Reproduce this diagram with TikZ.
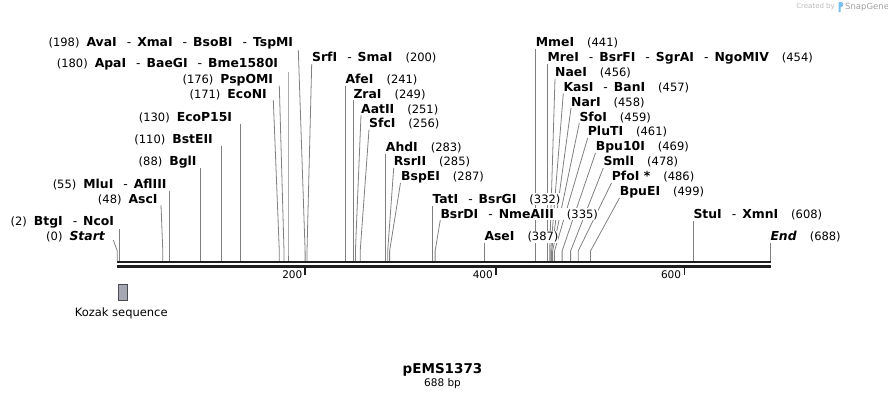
\documentclass[tikz,border=0pt]{standalone}
\usepackage{fontspec}
\setmainfont{DejaVu Sans}
\usetikzlibrary{backgrounds}
\newcommand{\enz}[1]{{\fontsize{12.4}{13}\selectfont\bfseries #1}}
\newcommand{\dsep}{\hspace{10pt}\textmd{-}\hspace{6pt}}
\newcommand{\rpos}[1]{\hspace{13pt}\textmd{(#1)}}
\newcommand{\lpos}[1]{(#1)\hspace{7pt}}

\begin{document}
\begin{tikzpicture}[x=1pt,y=-1pt,
  font=\fontsize{11.5}{13}\selectfont,
  leftlbl/.style={anchor=east,inner sep=0pt,fill=white,text height=10pt,text depth=1.6pt},
  rightlbl/.style={leftlbl,anchor=west},
  cut/.style={draw={rgb, 255:red, 128; green, 128; blue, 128},line width=0.8pt},
  seqbar/.style={draw={rgb, 255:red, 30; green, 30; blue, 30},line width=2.6pt},
  ruler/.style={draw={rgb, 255:red, 30; green, 30; blue, 30},line width=1.6pt},
  rulerlbl/.style={anchor=east,inner sep=0pt,font=\fontsize{10.5}{12}\selectfont}]
\useasboundingbox (0,0) rectangle (888,400);

%Watermark
\node[anchor=east,inner sep=0pt,text={rgb, 255:red, 185; green, 185; blue, 185},font=\fontsize{7}{8}\selectfont] (made) at (835,7) {Created by};
\fill[fill={rgb, 255:red, 120; green, 190; blue, 240}] (838.5,12) -- (838.5,2) -- (841,2) .. controls (844,2) and (844,7) .. (841,7) -- (840.5,7) -- (840.5,12) -- cycle ;
\node[anchor=west,inner sep=0pt,text={rgb, 255:red, 160; green, 160; blue, 160},font=\fontsize{8.5}{9}\selectfont] (snap) at (845,7) {SnapGene};

%Labels: left of their sites
\node[leftlbl] (AvaI) at (293.3,42.3) {\lpos{198}\enz{AvaI\dsep XmaI\dsep BsoBI\dsep TspMI}};
\node[leftlbl] (ApaI) at (278.3,63.3) {\lpos{180}\enz{ApaI\dsep BaeGI\dsep Bme1580I}};
\node[leftlbl] (PspOMI) at (273.3,79.5) {\lpos{176}\enz{PspOMI}};
\node[leftlbl] (EcoNI) at (267,94) {\lpos{171}\enz{EcoNI}};
\node[leftlbl] (EcoP15I) at (232.3,117.3) {\lpos{130}\enz{EcoP15I}};
\node[leftlbl] (BstEII) at (213,139.3) {\lpos{110}\enz{BstEII}};
\node[leftlbl] (BglI) at (196.7,161.5) {\lpos{88}\enz{BglI}};
\node[leftlbl] (MluI) at (166.7,184.3) {\lpos{55}\enz{MluI\dsep AflIII}};
\node[leftlbl] (AscI) at (157.7,199.5) {\lpos{48}\enz{AscI}};
\node[leftlbl] (BtgI) at (114.3,221.7) {\lpos{2}\enz{BtgI\dsep NcoI}};
\node[leftlbl] (Start) at (105,236.7) {\lpos{0}\enz{\itshape Start}};

%Labels: right of their sites
\node[rightlbl] (SrfI) at (312,57.5) {\enz{SrfI\dsep SmaI}\rpos{200}};
\node[rightlbl] (AfeI) at (345.3,79.3) {\enz{AfeI}\rpos{241}};
\node[rightlbl] (ZraI) at (353.3,93.8) {\enz{ZraI}\rpos{249}};
\node[rightlbl] (AatII) at (361,109) {\enz{AatII}\rpos{251}};
\node[rightlbl] (SfcI) at (369,123.5) {\enz{SfcI}\rpos{256}};
\node[rightlbl] (AhdI) at (385.7,147.3) {\enz{AhdI}\rpos{283}};
\node[rightlbl] (RsrII) at (393.7,161.7) {\enz{RsrII}\rpos{285}};
\node[rightlbl] (BspEI) at (401,176.7) {\enz{BspEI}\rpos{287}};
\node[rightlbl] (TatI) at (432.3,199) {\enz{TatI\dsep BsrGI}\rpos{332}};
\node[rightlbl] (BsrDI) at (440.3,213.8) {\enz{BsrDI\dsep NmeAIII}\rpos{335}};
\node[rightlbl] (AseI) at (484.3,236.7) {\enz{AseI}\rpos{387}};
\node[rightlbl] (MmeI) at (535.7,42.3) {\enz{MmeI}\rpos{441}};
\node[rightlbl] (MreI) at (547.3,57.5) {\enz{MreI\dsep BsrFI\dsep SgrAI\dsep NgoMIV}\rpos{454}};
\node[rightlbl] (NaeI) at (555,72.5) {\enz{NaeI}\rpos{456}};
\node[rightlbl] (KasI) at (563.3,87.2) {\enz{KasI\dsep BanI}\rpos{457}};
\node[rightlbl] (NarI) at (571,101.8) {\enz{NarI}\rpos{458}};
\node[rightlbl] (SfoI) at (579.3,116.8) {\enz{SfoI}\rpos{459}};
\node[rightlbl] (PluTI) at (587.7,131.7) {\enz{PluTI}\rpos{461}};
\node[rightlbl] (Bpu10I) at (595.7,146.7) {\enz{Bpu10I}\rpos{469}};
\node[rightlbl] (SmlI) at (603.3,161.7) {\enz{SmlI}\rpos{478}};
\node[rightlbl] (PfoI) at (611.7,176.7) {\enz{PfoI *}\rpos{486}};
\node[rightlbl] (BpuEI) at (619.7,191.7) {\enz{BpuEI}\rpos{499}};
\node[rightlbl] (StuI) at (693.3,214.5) {\enz{StuI\dsep XmnI}\rpos{608}};
\node[rightlbl] (End) at (770.3,236.7) {\enz{\itshape End}\rpos{688}};

%Cut sites on the sequence
\coordinate (kink) at (0,251);
\coordinate (cStart) at (117.3,261);
\coordinate (cBtgI) at (119.2,261);
\coordinate (cAscI) at (162.8,261);
\coordinate (cMluI) at (169.8,261);
\coordinate (cBglI) at (200.8,261);
\coordinate (cBstEII) at (221.7,261);
\coordinate (cEcoP15I) at (240.6,261);
\coordinate (cEcoNI) at (279.3,261);
\coordinate (cPspOMI) at (284,261);
\coordinate (cApaI) at (288,261);
\coordinate (cAvaI) at (305.1,261);
\coordinate (cSrfI) at (307,261);
\coordinate (cAfeI) at (345.6,261);
\coordinate (cZraI) at (353.4,261);
\coordinate (cAatII) at (355.4,261);
\coordinate (cSfcI) at (360.2,261);
\coordinate (cAhdI) at (385.7,261);
\coordinate (cRsrII) at (387.7,261);
\coordinate (cBspEI) at (389.6,261);
\coordinate (cTatI) at (432.3,261);
\coordinate (cBsrDI) at (435.1,261);
\coordinate (cAseI) at (484.3,261);
\coordinate (cMmeI) at (535.7,261);
\coordinate (cMreI) at (547.8,261);
\coordinate (cNaeI) at (549.7,261);
\coordinate (cKasI) at (550.7,261);
\coordinate (cNarI) at (551.6,261);
\coordinate (cSfoI) at (552.6,261);
\coordinate (cPluTI) at (554.5,261);
\coordinate (cBpuXI) at (562.1,261);
\coordinate (cSmlI) at (570.6,261);
\coordinate (cPfoI) at (578.2,261);
\coordinate (cBpuEI) at (590.5,261);
\coordinate (cStuI) at (693.8,261);
\coordinate (cEnd) at (770.3,261);

%Connectors from labels to sites
\begin{scope}[on background layer]
\draw[cut] ([shift={(8.3,3.3)}]Start.east) -- (kink -| cStart) -- (cStart);
\draw[cut] ([shift={(4.9,7.6)}]BtgI.east) -- (kink -| cBtgI) -- (cBtgI);
\draw[cut] ([shift={(3.3,5.5)}]AscI.east) -- (kink -| cAscI) -- (cAscI);
\draw[cut] ([shift={(3.1,6.4)}]MluI.east) -- (kink -| cMluI) -- (cMluI);
\draw[cut] ([shift={(4.1,6.5)}]BglI.east) -- (kink -| cBglI) -- (cBglI);
\draw[cut] ([shift={(8.7,6.2)}]BstEII.east) -- (kink -| cBstEII) -- (cBstEII);
\draw[cut] ([shift={(8.3,6.2)}]EcoP15I.east) -- (kink -| cEcoP15I) -- (cEcoP15I);
\draw[cut] ([shift={(6.3,6.2)}]EcoNI.east) -- (kink -| cEcoNI) -- (cEcoNI);
\draw[cut] ([shift={(6,6.2)}]PspOMI.east) -- (kink -| cPspOMI) -- (cPspOMI);
\draw[cut] ([shift={(9.7,8.2)}]ApaI.east) -- (kink -| cApaI) -- (cApaI);
\draw[cut] ([shift={(5,7.7)}]AvaI.east) -- (kink -| cAvaI) -- (cAvaI);
\draw[cut] ([shift={(-0.3,6.5)}]SrfI.west) -- (kink -| cSrfI) -- (cSrfI);
\draw[cut] ([shift={(0.3,6.2)}]AfeI.west) -- (kink -| cAfeI) -- (cAfeI);
\draw[cut] ([shift={(0.1,6.2)}]ZraI.west) -- (kink -| cZraI) -- (cZraI);
\draw[cut] ([shift={(0,6.2)}]AatII.west) -- (kink -| cAatII) -- (cAatII);
\draw[cut] ([shift={(0,6.2)}]SfcI.west) -- (kink -| cSfcI) -- (cSfcI);
\draw[cut] ([shift={(0,6.2)}]AhdI.west) -- (kink -| cAhdI) -- (cAhdI);
\draw[cut] ([shift={(0,6.2)}]RsrII.west) -- (kink -| cRsrII) -- (cRsrII);
\draw[cut] ([shift={(-0.5,6.2)}]BspEI.west) -- (kink -| cBspEI) -- (cBspEI);
\draw[cut] ([shift={(0,6.8)}]TatI.west) -- (kink -| cTatI) -- (cTatI);
\draw[cut] ([shift={(0,6.2)}]BsrDI.west) -- (kink -| cBsrDI) -- (cBsrDI);
\draw[cut] ([shift={(0,6.2)}]AseI.west) -- (kink -| cAseI) -- (cAseI);
\draw[cut] ([shift={(0,6.7)}]MmeI.west) -- (kink -| cMmeI) -- (cMmeI);
\draw[cut] ([shift={(0.5,6.2)}]MreI.west) -- (kink -| cMreI) -- (cMreI);
\draw[cut] ([shift={(0,6.2)}]NaeI.west) -- (kink -| cNaeI) -- (cNaeI);
\draw[cut] ([shift={(0,6.2)}]KasI.west) -- (kink -| cKasI) -- (cKasI);
\draw[cut] ([shift={(0,6.2)}]NarI.west) -- (kink -| cNarI) -- (cNarI);
\draw[cut] ([shift={(0,6.2)}]SfoI.west) -- (kink -| cSfoI) -- (cSfoI);
\draw[cut] ([shift={(0,6.2)}]PluTI.west) -- (kink -| cPluTI) -- (cPluTI);
\draw[cut] ([shift={(-0.2,6.2)}]Bpu10I.west) -- (kink -| cBpuXI) -- (cBpuXI);
\draw[cut] ([shift={(0,6.2)}]SmlI.west) -- (kink -| cSmlI) -- (cSmlI);
\draw[cut] ([shift={(-0.2,6.2)}]PfoI.west) -- (kink -| cPfoI) -- (cPfoI);
\draw[cut] ([shift={(-0.2,6.2)}]BpuEI.west) -- (kink -| cBpuEI) -- (cBpuEI);
\draw[cut] ([shift={(0.5,6.5)}]StuI.west) -- (kink -| cStuI) -- (cStuI);
\draw[cut] ([shift={(0,6.5)}]End.west) -- (kink -| cEnd) -- (cEnd);
\end{scope}

%Sequence: double strand
\draw[seqbar] (116.7,262) -- (771,262);
\draw[seqbar] (116.7,266.2) -- (771,266.2);

%Ruler ticks
\draw[ruler] (305,266) -- (305,274.5);
\node[rulerlbl] (tick200) at (302.5,274.5) {200};
\draw[ruler] (496,266) -- (496,274.5);
\node[rulerlbl] (tick400) at (493,274.5) {400};
\draw[ruler] (684.3,266) -- (684.3,274.5);
\node[rulerlbl] (tick600) at (681.3,274.5) {600};

%Feature: Kozak sequence
\draw[draw={rgb, 255:red, 75; green, 75; blue, 80},fill={rgb, 255:red, 165; green, 168; blue, 178},line width=0.8pt] (118.5,284.5) rectangle (127.3,300);
\node[inner sep=0pt] (kozak) at (121.2,313.3) {Kozak sequence};

%Map title
\node[inner sep=0pt,font=\fontsize{13.5}{15}\selectfont\bfseries] (title) at (442.5,369.5) {pEMS1373};
\node[inner sep=0pt,font=\fontsize{10.5}{12}\selectfont] (size) at (442.5,383.5) {688 bp};

\end{tikzpicture}
\end{document}
